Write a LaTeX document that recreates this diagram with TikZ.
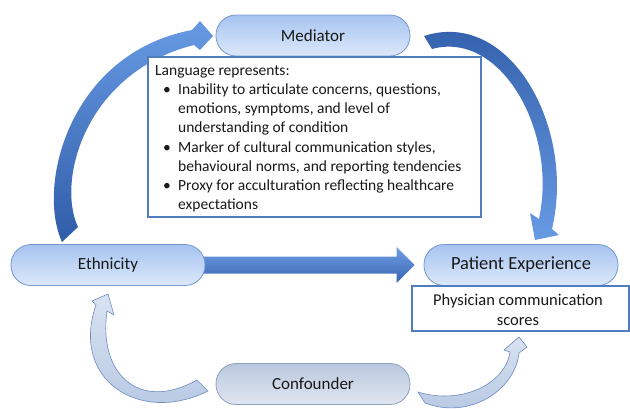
\documentclass[tikz,border=0pt]{standalone}
\usepackage{fontspec}
\setmainfont{Carlito}
\usetikzlibrary{calc}
\definecolor{pilltop}{RGB}{166,196,240}
\definecolor{pillbot}{RGB}{220,232,250}
\definecolor{pillline}{RGB}{118,152,208}
\definecolor{contop}{RGB}{186,200,222}
\definecolor{conbot}{RGB}{224,230,240}
\definecolor{conline}{RGB}{140,160,192}
\definecolor{darkarr}{RGB}{48,92,168}
\definecolor{midarr}{RGB}{104,154,228}
\definecolor{boxline}{RGB}{79,125,190}
\definecolor{lightarr}{RGB}{212,223,240}
\definecolor{lightarr2}{RGB}{172,192,222}
\definecolor{lightline}{RGB}{108,138,190}
\tikzset{
  pill/.style={draw=pillline, line width=0.8pt, rounded corners=20pt,
    minimum width=194pt, minimum height=41pt, top color=pilltop, bottom color=pillbot,
    font=\fontsize{17}{20}\selectfont, text=black!90},
  conpill/.style={pill, draw=conline, top color=contop, bottom color=conbot},
  infobox/.style={draw=boxline, line width=1.4pt, fill=white},
  boxtext/.style={font=\fontsize{15.5}{19.1}\selectfont, text=black!90, inner sep=0pt},
  darkcurve/.style={draw=none},
  lightcurve/.style={draw=lightline, line width=0.6pt, fill opacity=0.9}
}
\newcommand{\bul}{\hspace*{8pt}\makebox[15pt][l]{\textbullet}}
\newcommand{\ind}{\hspace*{23pt}}
\begin{document}
\begin{tikzpicture}[x=1pt,y=-1pt]
\useasboundingbox (0,0) rectangle (630,408);

% curved arrow Ethnicity -> Mediator
\path[darkcurve, top color=midarr, bottom color=darkarr]
  (62,242) .. controls (36,185) and (70,53) .. (192,30)
  -- (200,21) -- (213,36) -- (200,50) -- (194,45)
  .. controls (86,72) and (56,180) .. (78,227) -- cycle;

% curved arrow Mediator -> Patient Experience
\path[darkcurve, top color=darkarr, bottom color=midarr]
  (424,36) .. controls (510,8) and (576,128) .. (552,229)
  -- (559,235) -- (535,240) -- (530,213) -- (539,219)
  .. controls (558,130) and (500,30) .. (432,49) -- cycle;

% curved arrow Confounder -> Ethnicity
\path[lightcurve, top color=lightarr, bottom color=lightarr2]
  (197,380) -- (208,391)
  .. controls (140,425) and (70,380) .. (96,305)
  -- (92,301) -- (108,294) -- (114,315) -- (107,311)
  .. controls (98,375) and (140,412) .. (197,380) -- cycle;

% curved arrow Confounder -> Physician box
\path[lightcurve, top color=lightarr, bottom color=lightarr2]
  (418,392) -- (425,403)
  .. controls (470,420) and (515,390) .. (519,353)
  -- (527,347) -- (519,337) -- (504,350) -- (510,352)
  .. controls (505,385) and (460,405) .. (418,392) -- cycle;

% nodes
\node[pill] (med) at (313,35.5) {Mediator};
\node[pill, font=\fontsize{18.5}{22}\selectfont] (pe) at (521,265) {Patient Experience};
\node[conpill] (con) at (313,384) {Confounder};

% straight arrow Ethnicity -> Patient Experience
\coordinate (ethE) at (203,265);
\path[top color=midarr!95, bottom color=darkarr!85!midarr]
  ($(ethE)+(0,-8.5)$) -- ($(pe.west)+(-27,-8.5)$) -- ($(pe.west)+(-27,-18)$)
  -- ($(pe.west)+(-9,0)$) -- ($(pe.west)+(-27,18)$) -- ($(pe.west)+(-27,8.5)$)
  -- ($(ethE)+(0,8.5)$) -- cycle;
\node[pill] (eth) at (108,265) {Ethnicity};

% information box
\draw[infobox] (148,57) rectangle (481,217);
\node[boxtext, anchor=north west, align=left] (lang) at (155,65.5) {%
Language represents:\\
\bul Inability to articulate concerns, questions,\\
\ind emotions, symptoms, and level of\\
\ind understanding of condition\\
\bul Marker of cultural communication styles,\\
\ind behavioural norms, and reporting tendencies\\
\bul Proxy for acculturation reflecting healthcare\\
\ind expectations};

% physician box
\draw[infobox, line width=1.2pt] (412,286) rectangle (629,331);
\node[boxtext, align=center, font=\fontsize{16.5}{20}\selectfont] (phys) at (518,309.5) {Physician communication\\scores};
\end{tikzpicture}
\end{document}
